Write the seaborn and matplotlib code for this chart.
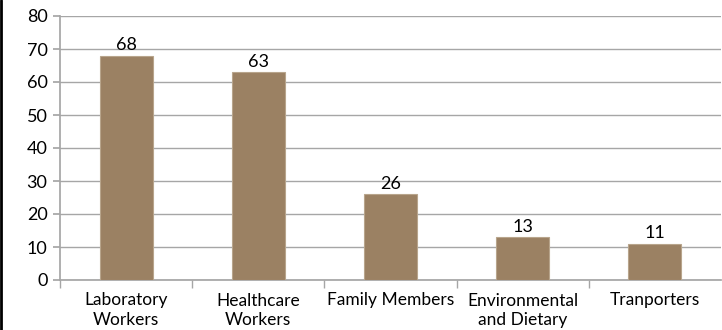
import matplotlib
matplotlib.use("Agg")
import matplotlib.pyplot as plt
import seaborn as sns
import pandas as pd
import numpy as np

categories = ["Laboratory\nWorkers", "Healthcare\nWorkers", "Family Members", "Environmental\nand Dietary", "Tranporters"]
values = [68, 63, 26, 13, 11]

sns.set_theme(style="white")
plt.rcParams['font.family'] = ['Lato', 'DejaVu Sans']

df = pd.DataFrame({"cat": categories, "val": values})

fig = plt.figure(figsize=(7.22, 3.30), dpi=100)
ax = fig.add_axes([60/722, 50/330, 661/722, 264/330])
sns.barplot(data=df, x="cat", y="val", color="#9B8163", width=0.4, saturation=1,
            edgecolor="#B8A58C", linewidth=0.8, ax=ax, zorder=3)

ax.set_ylim(0, 80)
ax.set_xlim(-0.5, len(categories) - 0.5)
ax.set_yticks(range(0, 81, 10))
ax.yaxis.grid(True, color="#A6A6A6", linewidth=1, zorder=0)
ax.set_axisbelow(True)
ax.set_xlabel("")
ax.set_ylabel("")
for s in ["top", "right"]:
    ax.spines[s].set_visible(False)
ax.spines["left"].set_color("#A6A6A6")
ax.spines["bottom"].set_color("#A6A6A6")
ax.tick_params(axis="y", which="major", length=5, color="#A6A6A6", labelsize=13, labelcolor="black", left=True, pad=4)
ax.tick_params(axis="x", which="major", length=0, labelsize=12.5, labelcolor="black", pad=9)
for lbl in ax.get_xticklabels():
    lbl.set_linespacing(1.25)
ax.set_xticks(np.arange(-0.5, len(categories) - 0.9), minor=True)
ax.tick_params(axis="x", which="minor", length=6, color="#A6A6A6", bottom=True)

for i, v in enumerate(values):
    ax.text(i, v + 0.7, str(v), ha="center", va="bottom", fontsize=13, color="black")

fig.add_artist(plt.Line2D([0.002, 0.002], [0, 1], color="black", linewidth=2, transform=fig.transFigure))

fig.savefig("out.png", dpi=100)
